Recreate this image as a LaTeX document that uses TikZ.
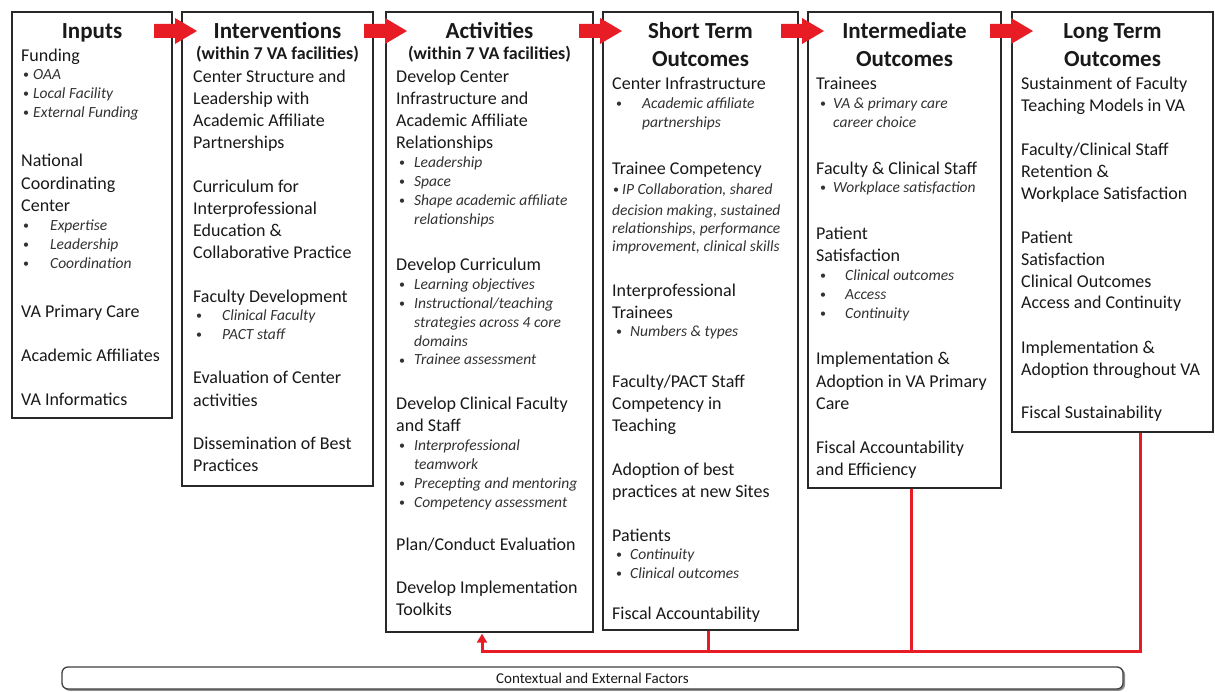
\documentclass[tikz,border=0pt]{standalone}
\usepackage{fontspec}
\setmainfont{Carlito}
\usetikzlibrary{arrows.meta,calc}

\definecolor{arrowred}{RGB}{232,28,36}
\definecolor{boxline}{RGB}{40,40,40}
\definecolor{inktext}{RGB}{25,25,25}
\definecolor{itext}{RGB}{50,50,50}

% one line of regular text, one line of italic text, one bulleted italic item
\newcommand\bodyline[4]{\node[bodytext] (#1) at (#2,#3) {#4};}
\newcommand\itline[4]{\node[ittext] (#1) at (#2,#3) {#4};}
\newcommand\bulletitem[5]{\node[bulletmark] (#1-dot) at (#2,#4) {\textbullet};
  \node[ittext] (#1) at (#3,#4) {#5};}
% thick red block arrow starting at a named coordinate
\newcommand\flowarrow[1]{\fill[arrowred] (#1) ++(0,-7) -- ++(21,0) -- ++(0,-6)
  -- ++(22,13) -- ++(-22,13) -- ++(0,-6) -- ++(-21,0) -- cycle;}

\begin{document}
\begin{tikzpicture}[x=1pt,y=-1pt,
  colbox/.style={draw=boxline, line width=1.4pt, fill=white, inner sep=0pt},
  heading/.style={anchor=base, inner sep=0pt, yshift=-7.5pt,
    font=\fontsize{23}{28}\selectfont\bfseries, text=inktext},
  subheading/.style={anchor=base, inner sep=0pt, yshift=-6pt,
    font=\fontsize{18}{22}\selectfont\bfseries, text=inktext},
  bodytext/.style={anchor=base west, inner sep=0pt, yshift=-6pt,
    font=\fontsize{18}{22}\selectfont, text=inktext},
  ittext/.style={anchor=base west, inner sep=0pt, yshift=-5pt,
    font=\fontsize{15.5}{19}\selectfont\itshape, text=itext},
  bulletmark/.style={anchor=base west, inner sep=0pt, yshift=-4pt,
    font=\fontsize{12}{14}\selectfont, text=itext},
  feedback/.style={draw=arrowred, line width=3pt},
  ctxbox/.style={draw=black!75, line width=1.3pt, fill=white, rounded corners=6pt,
    inner sep=0pt, font=\fontsize{15}{18}\selectfont, text=inktext},
]
\fill[white] (0,0) rectangle (1215,692);
\useasboundingbox (0,0) rectangle (1215,692);

% ---------- column frames ----------
\node[colbox, minimum width=160pt, minimum height=406pt] (inp) at (92,215) {};
\node[colbox, minimum width=191pt, minimum height=474pt] (iv)  at (277.5,249) {};
\node[colbox, minimum width=207pt, minimum height=620pt] (act) at (489.5,322) {};
\node[colbox, minimum width=195pt, minimum height=618pt] (st)  at (700.5,321) {};
\node[colbox, minimum width=193pt, minimum height=476pt] (im)  at (904.5,250) {};
\node[colbox, minimum width=201pt, minimum height=420pt] (lt)  at (1112.5,222) {};

% ---------- Inputs ----------
\node[heading] (inp-h) at (92,31) {Inputs};
\bodyline{in1}{21}{56}{Funding}
\bulletitem{in2}{23}{33}{75}{OAA}
\bulletitem{in3}{23}{33}{94}{Local Facility}
\bulletitem{in4}{23}{33}{113}{External Funding}
\bodyline{in5}{21}{161}{National}
\bodyline{in6}{21}{184}{Coordinating}
\bodyline{in7}{21}{206}{Center}
\bulletitem{in8}{23}{50}{226}{Expertise}
\bulletitem{in9}{23}{50}{245}{Leadership}
\bulletitem{in10}{23}{50}{264}{Coordination}
\bodyline{in11}{21}{312}{VA Primary Care}
\bodyline{in12}{21}{356}{Academic Affiliates}
\bodyline{in13}{21}{399}{VA Informatics}

% ---------- Interventions ----------
\node[heading] (iv-h) at (277.5,31) {Interventions};
\node[subheading] (iv-s) at (277.5,54) {(within 7 VA facilities)};
\bodyline{iv1}{193}{77}{Center Structure and}
\bodyline{iv2}{193}{99}{Leadership with}
\bodyline{iv3}{193}{121}{Academic Affiliate}
\bodyline{iv4}{193}{143}{Partnerships}
\bodyline{iv5}{193}{187}{Curriculum for}
\bodyline{iv6}{193}{209}{Interprofessional}
\bodyline{iv7}{193}{231}{Education \&}
\bodyline{iv8}{193}{253}{Collaborative Practice}
\bodyline{iv9}{193}{297}{Faculty Development}
\bulletitem{iv10}{196}{222}{316}{Clinical Faculty}
\bulletitem{iv11}{196}{222}{335}{PACT staff}
\bodyline{iv12}{193}{378}{Evaluation of Center}
\bodyline{iv13}{193}{400}{activities}
\bodyline{iv14}{193}{443}{Dissemination of Best}
\bodyline{iv15}{193}{465}{Practices}

% ---------- Activities ----------
\node[heading] (act-h) at (489.5,31) {Activities};
\node[subheading] (act-s) at (489.5,54) {(within 7 VA facilities)};
\bodyline{ac1}{396}{77}{Develop Center}
\bodyline{ac2}{396}{99}{Infrastructure and}
\bodyline{ac3}{396}{121}{Academic Affiliate}
\bodyline{ac4}{396}{143}{Relationships}
\bulletitem{ac5}{399}{414}{163}{Leadership}
\bulletitem{ac6}{399}{414}{182}{Space}
\bulletitem{ac7}{399}{414}{201}{Shape academic affiliate}
\itline{ac8}{414}{220}{relationships}
\bodyline{ac9}{396}{265}{Develop Curriculum}
\bulletitem{ac10}{399}{414}{285}{Learning objectives}
\bulletitem{ac11}{399}{414}{304}{Instructional/teaching}
\itline{ac12}{414}{323}{strategies across 4 core}
\itline{ac13}{414}{342}{domains}
\bulletitem{ac14}{399}{414}{360}{Trainee assessment}
\bodyline{ac15}{396}{403}{Develop Clinical Faculty}
\bodyline{ac16}{396}{425}{and Staff}
\bulletitem{ac17}{399}{414}{445}{Interprofessional}
\itline{ac18}{414}{464}{teamwork}
\bulletitem{ac19}{399}{414}{483}{Precepting and mentoring}
\bulletitem{ac20}{399}{414}{502}{Competency assessment}
\bodyline{ac21}{396}{544}{Plan/Conduct Evaluation}
\bodyline{ac22}{396}{587}{Develop Implementation}
\bodyline{ac23}{396}{609}{Toolkits}

% ---------- Short Term Outcomes ----------
\node[heading] (st-h1) at (700.5,31) {Short Term};
\node[heading] (st-h2) at (700.5,59) {Outcomes};
\bodyline{st1}{612}{84}{Center Infrastructure}
\bulletitem{st2}{616}{642}{104}{Academic affiliate}
\itline{st3}{642}{123}{partnerships}
\bodyline{st4}{612}{169}{Trainee Competency}
\bulletitem{st5}{613}{622}{190}{IP Collaboration, shared}
\itline{st6}{612}{211}{decision making, sustained}
\itline{st7}{612}{229}{relationships, performance}
\itline{st8}{612}{247}{improvement, clinical skills}
\bodyline{st9}{612}{291}{Interprofessional}
\bodyline{st10}{612}{313}{Trainees}
\bulletitem{st11}{616}{630}{332}{Numbers \& types}
\bodyline{st12}{612}{381}{Faculty/PACT Staff}
\bodyline{st13}{612}{403}{Competency in}
\bodyline{st14}{612}{425}{Teaching}
\bodyline{st15}{612}{469}{Adoption of best}
\bodyline{st16}{612}{491}{practices at new Sites}
\bodyline{st17}{612}{535}{Patients}
\bulletitem{st18}{616}{630}{554}{Continuity}
\bulletitem{st19}{616}{630}{573}{Clinical outcomes}
\bodyline{st20}{612}{613}{Fiscal Accountability}

% ---------- Intermediate Outcomes ----------
\node[heading] (im-h1) at (904.5,31) {Intermediate};
\node[heading] (im-h2) at (904.5,59) {Outcomes};
\bodyline{im1}{816}{84}{Trainees}
\bulletitem{im2}{820}{833}{104}{VA \& primary care}
\itline{im3}{833}{123}{career choice}
\bodyline{im4}{816}{169}{Faculty \& Clinical Staff}
\bulletitem{im5}{820}{833}{188}{Workplace satisfaction}
\bodyline{im6}{816}{234}{Patient}
\bodyline{im7}{816}{256}{Satisfaction}
\bulletitem{im8}{820}{845}{276}{Clinical outcomes}
\bulletitem{im9}{820}{845}{295}{Access}
\bulletitem{im10}{820}{845}{314}{Continuity}
\bodyline{im11}{816}{359}{Implementation \&}
\bodyline{im12}{816}{381}{Adoption in VA Primary}
\bodyline{im13}{816}{403}{Care}
\bodyline{im14}{816}{447}{Fiscal Accountability}
\bodyline{im15}{816}{469}{and Efficiency}

% ---------- Long Term Outcomes ----------
\node[heading] (lt-h1) at (1112.5,31) {Long Term};
\node[heading] (lt-h2) at (1112.5,59) {Outcomes};
\bodyline{lt1}{1021}{84}{Sustainment of Faculty}
\bodyline{lt2}{1021}{106}{Teaching Models in VA}
\bodyline{lt3}{1021}{150}{Faculty/Clinical Staff}
\bodyline{lt4}{1021}{172}{Retention \&}
\bodyline{lt5}{1021}{194}{Workplace Satisfaction}
\bodyline{lt6}{1021}{238}{Patient}
\bodyline{lt7}{1021}{260}{Satisfaction}
\bodyline{lt8}{1021}{282}{Clinical Outcomes}
\bodyline{lt9}{1021}{303}{Access and Continuity}
\bodyline{lt10}{1021}{347}{Implementation \&}
\bodyline{lt11}{1021}{369}{Adoption throughout VA}
\bodyline{lt12}{1021}{412}{Fiscal Sustainability}

% ---------- flow arrows between the columns ----------
\coordinate (ar1) at (154,31);
\coordinate (ar2) at (364,31);
\coordinate (ar3) at (579,31);
\coordinate (ar4) at (781,31);
\coordinate (ar5) at (990,31);
\flowarrow{ar1}
\flowarrow{ar2}
\flowarrow{ar3}
\flowarrow{ar4}
\flowarrow{ar5}

% ---------- feedback loop back to the activities ----------
\path (st.south) ++(7.5,0) coordinate (stdrop);
\path (im.south) ++(6.5,0) coordinate (imdrop);
\path (lt.south) ++(27.5,0) coordinate (ltdrop);
\path (act.south) ++(-7.5,1) coordinate (actin);
\coordinate (rail) at (0,651);
\draw[feedback] (stdrop) -- (stdrop |- rail);
\draw[feedback] (imdrop) -- (imdrop |- rail);
\draw[feedback, -{Triangle[length=9pt,width=10pt]}]
  (ltdrop) -- (ltdrop |- rail) -- (actin |- rail) -- (actin);

% ---------- contextual factors bar ----------
\fill[black!45, rounded corners=6pt] (63.5,668.5) rectangle (1125,690.8);
\node[ctxbox, minimum width=1061pt, minimum height=22pt] (ctx) at (592.5,678)
  {Contextual and External Factors};
\end{tikzpicture}
\end{document}
